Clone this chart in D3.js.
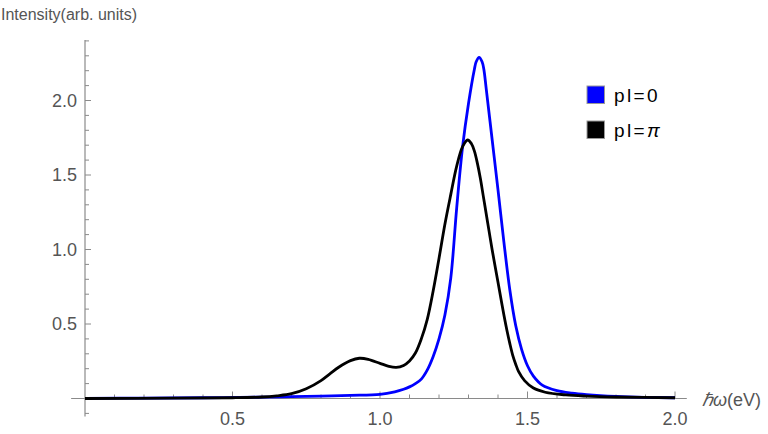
<!DOCTYPE html>
<html><head><meta charset="utf-8">
<script src="https://cdn.jsdelivr.net/npm/d3@7"></script>
<style>
body{margin:0;background:#fff;}
svg{display:block;font-family:"Liberation Sans",Arial,Helvetica,sans-serif;}
</style></head>
<body><svg id="chart" width="768" height="434"></svg>
<script>
// ---- data ----
const blueX = [0, 0.2, 0.4, 0.6, 0.7, 0.8, 0.9, 1.0, 1.05, 1.08, 1.1, 1.12, 1.14, 1.16, 1.18, 1.2, 1.22, 1.24, 1.26, 1.28, 1.3, 1.32, 1.326, 1.336, 1.346, 1.352, 1.36, 1.38, 1.4, 1.42, 1.44, 1.46, 1.48, 1.5, 1.52, 1.55, 1.6, 1.65, 1.7, 1.8, 1.9, 2.0];
const blueY = [0.001, 0.003, 0.005, 0.009, 0.012, 0.016, 0.021, 0.028, 0.045, 0.062, 0.078, 0.1, 0.13, 0.19, 0.28, 0.4, 0.56, 0.81, 1.28, 1.69, 1.98, 2.21, 2.26, 2.29, 2.26, 2.21, 2.08, 1.74, 1.4, 1.05, 0.73, 0.49, 0.33, 0.22, 0.15, 0.09, 0.053, 0.036, 0.026, 0.014, 0.008, 0.005];
const blackX = [0, 0.3, 0.5, 0.6, 0.65, 0.7, 0.75, 0.8, 0.83, 0.86, 0.9, 0.93, 0.96, 1.0, 1.03, 1.055, 1.08, 1.1, 1.12, 1.14, 1.16, 1.18, 1.2, 1.22, 1.24, 1.26, 1.28, 1.297, 1.31, 1.32, 1.33, 1.34, 1.35, 1.36, 1.37, 1.38, 1.39, 1.4, 1.41, 1.42, 1.43, 1.44, 1.45, 1.46, 1.47, 1.49, 1.52, 1.56, 1.63, 1.7, 1.8, 2.0];
const blackY = [0.0, 0.002, 0.005, 0.01, 0.018, 0.032, 0.065, 0.12, 0.165, 0.21, 0.254, 0.27, 0.263, 0.236, 0.216, 0.209, 0.222, 0.252, 0.305, 0.4, 0.53, 0.72, 0.94, 1.17, 1.37, 1.56, 1.69, 1.735, 1.71, 1.66, 1.58, 1.48, 1.36, 1.24, 1.12, 1.0, 0.89, 0.78, 0.67, 0.56, 0.46, 0.37, 0.29, 0.23, 0.18, 0.12, 0.07, 0.042, 0.024, 0.016, 0.01, 0.005];
const seriesNames = ["pl=0", "pl=\u03C0"];
const seriesColors = ["#0000ff", "#000000"];
const xTickValues = [0.5, 1.0, 1.5, 2.0];
const xTickLabels = ["0.5", "1.0", "1.5", "2.0"];
const yTickValues = [0.5, 1.0, 1.5, 2.0];
const yTickLabels = ["0.5", "1.0", "1.5", "2.0"];
const xMinorTicks = [0.1,0.2,0.3,0.4,0.6,0.7,0.8,0.9,1.1,1.2,1.3,1.4,1.6,1.7,1.8,1.9];
const yMinorTicks = [-0.1,0.1,0.2,0.3,0.4,0.6,0.7,0.8,0.9,1.1,1.2,1.3,1.4,1.6,1.7,1.8,1.9,2.1,2.2,2.3,2.4];
const yTitle = "Intensity(arb. units)";

// ---- layout ----
const svg = d3.select("#chart");
const x = d3.scaleLinear().domain([0, 2]).range([85, 675]);
const y = d3.scaleLinear().domain([0, 2]).range([398.5, 100.5]);
const axisColor = "#8a8a8a", labelColor = "#555";

// axis lines
svg.append("line").attr("x1", x(-0.047)).attr("x2", x(2.04)).attr("y1", y(0)).attr("y2", y(0))
  .attr("stroke", axisColor).attr("stroke-width", 1.2);
svg.append("line").attr("x1", x(0)).attr("x2", x(0)).attr("y1", y(2.4) - 1).attr("y2", y(-0.12))
  .attr("stroke", axisColor).attr("stroke-width", 1.2);

// x ticks
const gx = svg.append("g");
gx.selectAll(".maj").data(xTickValues).join("line")
  .attr("x1", d => x(d)).attr("x2", d => x(d)).attr("y1", y(0)).attr("y2", y(0) - 7)
  .attr("stroke", axisColor).attr("stroke-width", 1);
gx.selectAll(".min").data(xMinorTicks).join("line").attr("class","min")
  .attr("x1", d => x(d)).attr("x2", d => x(d)).attr("y1", y(0)).attr("y2", y(0) - 4)
  .attr("stroke", axisColor).attr("stroke-width", 1);
gx.selectAll("text").data(xTickValues).join("text")
  .attr("x", d => x(d)).attr("y", y(0) + 26).attr("text-anchor", "middle")
  .attr("font-size", 18).attr("fill", labelColor).text((d, i) => xTickLabels[i]);

// y ticks
const gy = svg.append("g");
gy.selectAll(".maj").data(yTickValues).join("line")
  .attr("x1", x(0)).attr("x2", x(0) + 6).attr("y1", d => y(d)).attr("y2", d => y(d))
  .attr("stroke", axisColor).attr("stroke-width", 1);
gy.selectAll(".min").data(yMinorTicks).join("line").attr("class","min")
  .attr("x1", x(0)).attr("x2", x(0) + 4).attr("y1", d => y(d)).attr("y2", d => y(d))
  .attr("stroke", axisColor).attr("stroke-width", 1);
gy.selectAll("text").data(yTickValues).join("text")
  .attr("x", x(0) - 8).attr("y", d => y(d)).attr("dy", "0.36em").attr("text-anchor", "end")
  .attr("font-size", 18).attr("fill", labelColor).text((d, i) => yTickLabels[i]);

// axis titles
svg.append("text").attr("x", 1).attr("y", 20).attr("font-size", 16).attr("fill", labelColor).text(yTitle);
const xt = svg.append("text").attr("x", 702).attr("y", 406).attr("font-size", 18).attr("fill", labelColor);
xt.append("tspan").attr("font-style", "italic").text("\u210F\u03C9");
xt.append("tspan").text("(eV)");

// curves
const line = d3.line().x(d => x(d[0])).y(d => y(d[1])).curve(d3.curveCatmullRom.alpha(0.5));
const series = [d3.zip(blueX, blueY), d3.zip(blackX, blackY)];
svg.append("g").selectAll("path").data(series).join("path")
  .attr("d", line).attr("fill", "none").attr("stroke", (d, i) => seriesColors[i])
  .attr("stroke-width", 2.8).attr("stroke-linejoin", "round");

// legend
const lg = svg.append("g").attr("transform", "translate(587,86)");
const items = lg.selectAll("g").data(seriesNames).join("g").attr("transform", (d, i) => `translate(0,${i * 35})`);
items.append("rect").attr("width", 17.5).attr("height", 17.5).attr("fill", (d, i) => seriesColors[i])
  .attr("stroke", "#999").attr("stroke-width", 1);
const lt = items.append("text").attr("x", 27).attr("y", 16).attr("font-size", 19)
  .attr("letter-spacing", 2.4).attr("fill", "#000");
lt.each(function(d) {
  const t = d3.select(this);
  t.append("tspan").text("pl=");
  t.append("tspan").attr("font-style", d.endsWith("0") ? "normal" : "italic").text(d.slice(3));
});
</script></body></html>
